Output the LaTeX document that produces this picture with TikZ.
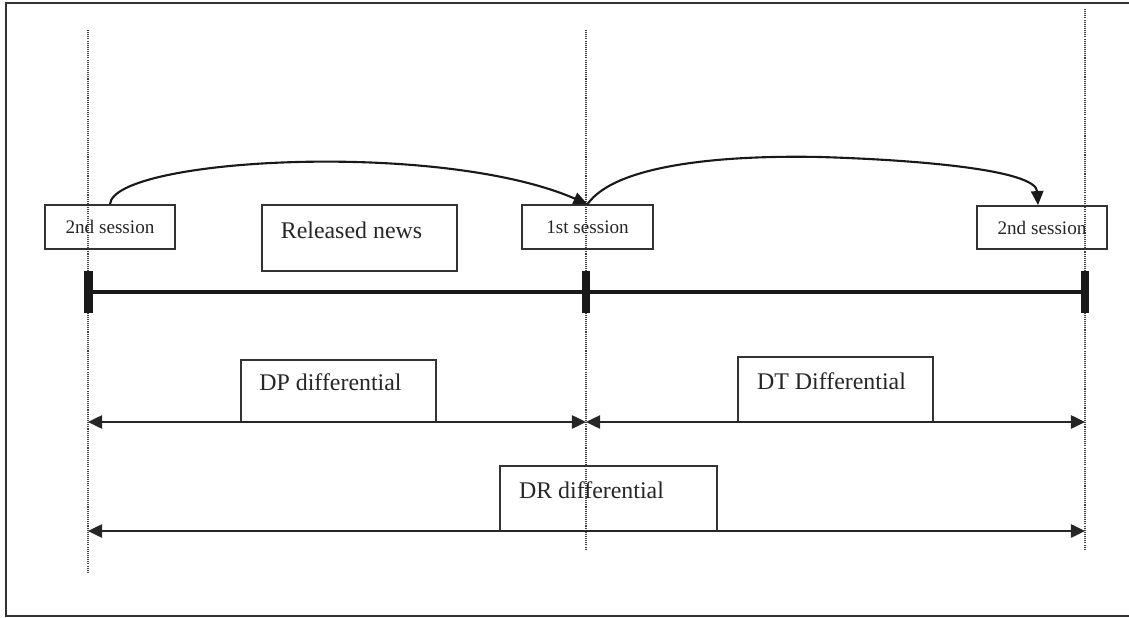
\documentclass[tikz,border=0pt]{standalone}
\usepackage{fontspec}
\setmainfont{Liberation Serif}
\usetikzlibrary{arrows.meta}
\begin{document}
\begin{tikzpicture}[x=0.02cm,y=-0.02cm,
  box/.style={draw=black!80,line width=1pt,inner sep=0pt},
  bigtxt/.style={font=\fontsize{13.6}{16}\selectfont,text=black!85,inner sep=0pt},
  smalltxt/.style={font=\fontsize{10.9}{13}\selectfont,text=black!85},
  guide/.style={draw=black!75,line width=0.7pt,dash pattern=on 0.6pt off 0.6pt},
  tickbar/.style={fill=black!90,draw=none,minimum width=0.17cm,minimum height=0.86cm,inner sep=0pt},
  timeline/.style={draw=black!90,line width=2.4pt},
  span/.style={draw=black!85,line width=1.2pt,{Triangle[length=8pt,width=7.5pt]}-{Triangle[length=8pt,width=7.5pt]}},
  jump/.style={draw=black!90,line width=1.2pt,-{Triangle[length=8pt,width=7pt]}}
]
\useasboundingbox (0,0) rectangle (1129,618);
% frame
\draw[draw=black!80,line width=1.3pt] (1140,3) -- (6,3) -- (6,616) -- (1140,616);
% guide lines
\coordinate (g1t) at (88,30); \coordinate (g1b) at (88,572);
\coordinate (g2t) at (586,30); \coordinate (g2b) at (586,550);
\coordinate (g3t) at (1085,9); \coordinate (g3b) at (1085,550);
\draw[guide] (g1t) -- (g1b);
\draw[guide] (g2t) -- (g2b);
\draw[guide] (g3t) -- (g3b);
% session boxes
\node[box,smalltxt,minimum width=2.6cm,minimum height=0.88cm] (b1) at (110,227) {2nd session};
\node[box,smalltxt,minimum width=2.62cm,minimum height=0.88cm] (s1) at (587.5,227) {1st session};
\node[box,smalltxt,minimum width=2.6cm,minimum height=0.86cm] (b2) at (1042,227.5) {2nd session};
% released news
\node[box,minimum width=3.9cm,minimum height=1.32cm] (news) at (359.5,238) {};
\node[bigtxt] (newsT) at (351.5,230) {Released news};
% timeline
\node[tickbar] (t1) at (88.5,292) {};
\node[tickbar] (t2) at (586,292) {};
\node[tickbar] (t3) at (1085,292) {};
\draw[timeline] (t1.center) -- (t2.center) -- (t3.center);
% jumps
\draw[jump] (b1.north) .. controls (114,158) and (440,140) .. (s1.north);
\draw[jump] (s1.north) .. controls (615,165) and (720,155) .. (820,157)
   .. controls (920,160) and (1036,170) .. ([xshift=-0.08cm]b2.north);
% differential boxes
\draw[box] (241,422) -- (241,360) -- (436,360) -- (436,422);
\node[bigtxt] (dpT) at (330.5,382.5) {DP differential};
\draw[box] (738,422) -- (738,357) -- (933,357) -- (933,422);
\node[bigtxt] (dtT) at (831.5,381.5) {DT Differential};
\draw[box] (500,531) -- (500,466) -- (717,466) -- (717,531);
\node[bigtxt] (drT) at (591.5,490) {DR differential};
% spans
\coordinate (a1) at (88,422); \coordinate (a2) at (586,422); \coordinate (a3) at (1085,422);
\coordinate (c1) at (88,531); \coordinate (c3) at (1085,531);
\draw[span] (a1) -- (a2);
\draw[span] (a2) -- (a3);
\draw[span] (c1) -- (c3);
\end{tikzpicture}
\end{document}
